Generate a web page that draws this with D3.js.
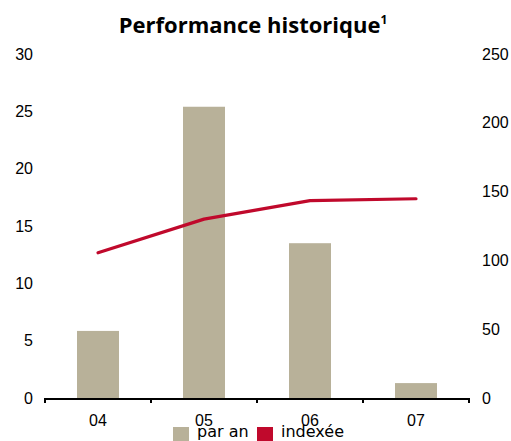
<!DOCTYPE html>
<html lang="fr">
<meta charset="utf-8">
<head>
    <title>Performance historique</title>
    <script src="https://d3js.org/d3.v7.min.js"></script>
    <style>
        body { margin: 0; background: #fff; }
        .tick text { font-family: "Liberation Sans", Arial, sans-serif; font-size: 16px; fill: #000; }
    </style>
</head>
<body>
<div id="chart"></div>
<script>
    // data
    const years = ["04", "05", "06", "07"];
    const parAn = [5.85, 25.4, 13.5, 1.3];       // bars, left axis
    const indexee = [105.5, 130, 143.4, 144.8];   // line, right axis
    const leftTicks = [0, 5, 10, 15, 20, 25, 30];
    const rightTicks = [0, 50, 100, 150, 200, 250];
    const legendLabels = ["par an", "indexée"];

    const W = 511, H = 441;
    const barColor = "#b8b199", lineColor = "#c0092c";

    let svg = d3.select("#chart").append("svg")
        .attr("width", W)
        .attr("height", H);

    let x = d3.scaleBand().domain(years).range([45, 469]).paddingInner(0.6).paddingOuter(0.3);
    let xEdge = d3.scaleBand().domain(years).range([45, 469]);
    let yL = d3.scaleLinear().domain([0, 30]).range([398, 54]);
    let yR = d3.scaleLinear().domain([0, 250]).range([398, 54]);

    // bars
    svg.selectAll(".bar")
        .data(years)
        .enter().append("rect")
        .attr("class", "bar")
        .attr("x", d => xEdge(d) + xEdge.bandwidth() / 2 - 21)
        .attr("width", 42)
        .attr("y", (d, i) => yL(parAn[i]))
        .attr("height", (d, i) => yL(0) - yL(parAn[i]))
        .attr("fill", barColor);

    // line
    let line = d3.line()
        .x((d, i) => xEdge(years[i]) + xEdge.bandwidth() / 2)
        .y(d => yR(d));
    svg.append("path")
        .datum(indexee)
        .attr("d", line)
        .attr("fill", "none")
        .attr("stroke", lineColor)
        .attr("stroke-width", 3.2)
        .attr("stroke-linecap", "round")
        .attr("stroke-linejoin", "round");

    // left axis (labels only)
    let gl = svg.append("g")
        .attr("transform", "translate(33,0)")
        .call(d3.axisLeft(yL).tickValues(leftTicks).tickSize(0).tickPadding(0));
    gl.select(".domain").remove();

    // right axis (labels only)
    let gr = svg.append("g")
        .attr("transform", "translate(482,0)")
        .call(d3.axisRight(yR).tickValues(rightTicks).tickSize(0).tickPadding(0));
    gr.select(".domain").remove();

    // x axis: line + ticks at band edges
    svg.append("line")
        .attr("x1", 45).attr("x2", 470)
        .attr("y1", 399).attr("y2", 399)
        .attr("stroke", "#000").attr("stroke-width", 2);
    let edges = years.map(d => xEdge(d)).concat([xEdge.range()[1]]);
    svg.selectAll(".xtick")
        .data(edges)
        .enter().append("line")
        .attr("x1", d => d).attr("x2", d => d)
        .attr("y1", 398).attr("y2", 403)
        .attr("stroke", "#000").attr("stroke-width", 2);
    svg.selectAll(".xlabel")
        .data(years)
        .enter().append("text")
        .attr("x", d => xEdge(d) + xEdge.bandwidth() / 2)
        .attr("y", 426)
        .attr("text-anchor", "middle")
        .style("font-family", "Liberation Sans, Arial, sans-serif")
        .style("font-size", "16px")
        .text(d => d);

    // title
    let title = svg.append("text")
        .attr("x", 253)
        .attr("y", 33)
        .attr("text-anchor", "middle")
        .style("font-family", "Open Sans, sans-serif")
        .style("font-weight", "bold")
        .style("font-size", "22px")
        .text("Performance historique");
    title.append("tspan")
        .attr("dy", -9)
        .style("font-size", "12px")
        .text("1");

    // legend
    let legend = svg.append("g");
    let legendX = [173, 257];
    let colors = [barColor, lineColor];
    legendLabels.forEach(function(lbl, i) {
        legend.append("rect")
            .attr("x", legendX[i]).attr("y", 427)
            .attr("width", 16).attr("height", 16)
            .attr("fill", colors[i]);
        legend.append("text")
            .attr("x", legendX[i] + 24)
            .attr("y", 437)
            .style("font-family", "DejaVu Sans, sans-serif")
            .style("font-size", "16px")
            .text(lbl);
    });
</script>
</body>
</html>
